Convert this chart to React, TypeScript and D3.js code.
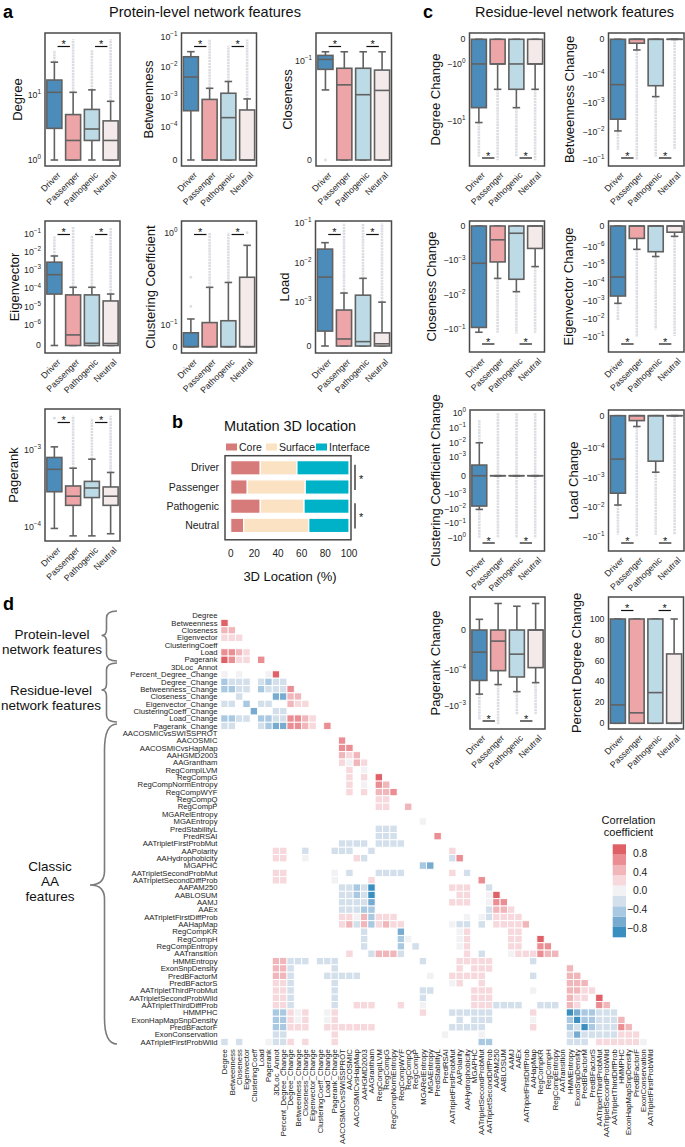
import React from "react";
import * as d3 from "d3";

const FONT = "'Liberation Sans', Arial, Helvetica, sans-serif";
const GROUPS = ["Driver", "Passenger", "Pathogenic", "Neutral"];
const GROUP_COLORS = ["#4b8cba", "#eea5a7", "#bddbe6", "#f4eaea"];

// box stats per group: [whiskerLow, q1, median, q3, whiskerHigh]; fliers: list of [from, to] ranges
const degreeStats = [[1, 3.07, 11, 17, 32], [1, 1, 2, 5, 11], [1, 2, 3, 6, 12], [1, 1, 2, 4, 8]];
const degreeFliers = [[[32, 49]], [[11, 72]], [[12, 49]], [[8, 72]]];
const degreeTicks = [1, 10];

const betweennessStats = [[0, 3.4e-4, 4.5e-3, 0.0214, 0.0316], [0, 0, 0, 8.1e-4, 1.9e-3], [0, 0, 2e-4, 1.3e-3, 3.2e-3], [0, 0, 0, 3.6e-4, 8.4e-4]];
const betweennessFliers = [[], [[1.9e-3, 0.08]], [[3.2e-3, 0.05]], [[8.4e-4, 0.08]]];
const betweennessTicks = [0, 1e-4, 1e-3, 1e-2, 1e-1];

const closenessStats = [[0.033, 0.072, 0.105, 0.122, 0.14], [0, 0, 0.04, 0.075, 0.14], [0, 0, 0.029, 0.075, 0.14], [0, 0, 0.0324, 0.07, 0.14]];
const closenessFliers = [[[0, 0]], [], [], []];
const closenessTicks = [0, 0.1];

const eigenvectorStats = [[0, 5e-5, 5.7e-4, 2.75e-3, 6e-3], [0, 0, 5.2e-7, 4.5e-5, 1.17e-4], [0, 0, 1.1e-7, 4.5e-5, 1.17e-4], [0, 0, 1e-7, 2.1e-5, 5e-5]];
const eigenvectorFliers = [[[6e-3, 0.074]], [[1.17e-4, 0.24]], [[1.17e-4, 0.085]], [[5e-5, 0.22]]];
const eigenvectorTicks = [0, 1e-6, 1e-5, 1e-4, 1e-3, 1e-2, 1e-1];

const clusteringStats = [[0, 0, 0, 0.065, 0.117], [0, 0, 0, 0.107, 0.257], [0, 0, 0, 0.112, 0.29], [0, 0, 0, 0.33, 0.73]];
const clusteringFliers = [[[0.16, 0.16], [0.33, 0.33]], [[0.257, 1.0]], [[0.29, 1.0]], [[1.0, 1.0]]];
const clusteringTicks = [0, 0.1, 1];

const loadStats = [[0, 3.4e-4, 4.3e-3, 0.022, 0.032], [0, 0, 1.6e-4, 8.2e-4, 1.7e-3], [0, 0, 1e-4, 1.5e-3, 4e-3], [0, 0, 5e-5, 3e-4, 1e-3]];
const loadFliers = [[], [[1.7e-3, 0.1]], [[4e-3, 0.1]], [[1e-3, 0.1]]];
const loadTicks = [0, 1e-3, 1e-2, 1e-1];

const pagerankStats = [[9.5e-5, 2.86e-4, 5.6e-4, 8e-4, 1.1e-3], [7.6e-5, 1.9e-4, 2.5e-4, 3.4e-4, 5.8e-4], [7.6e-5, 2.4e-4, 3.2e-4, 3.9e-4, 7.6e-4], [8.1e-5, 1.9e-4, 2.5e-4, 3.3e-4, 5.1e-4]];
const pagerankFliers = [[[2.6e-3, 2.6e-3]], [[5.8e-4, 2.8e-3]], [[7.6e-4, 2.6e-3]], [[5.1e-4, 2.8e-3]]];
const pagerankTicks = [1e-4, 1e-3];

const degreeChangeStats = [[-10.8, -5.9, -1, 0, 0], [-2.8, -1, -1, 0, 0], [-5.9, -2.8, -1, 0, 0], [-2.8, -1, -1, 0, 0]];
const degreeChangeFliers = [[[-10.8, -43]], [[-2.8, -50]], [[-5.9, -43]], [[-2.8, -50]]];
const degreeChangeTicks = [0, -1, -10];

const betweennessChangeStats = [[-9.3e-3, -3.6e-3, -2.2e-4, 0, 0], [-3e-5, -1.1e-5, 0, 0, 0], [-5.8e-4, -2.4e-4, 0, 0, 0], [0, 0, 0, 0, 0]];
const betweennessChangeFliers = [[[-9.3e-3, -4.3e-2]], [[-3e-5, -0.1]], [[-5.8e-4, -7.4e-2]], [[0, -4.3e-2]]];
const betweennessChangeTicks = [0, -1e-4, -1e-3, -1e-2, -1e-1];

const closenessChangeStats = [[-0.12, -8.7e-2, -1.2e-3, 0, 0], [-3.3e-3, -1.1e-3, -4e-4, 0, 0], [-8e-3, -3.5e-3, -2.1e-4, 0, 0], [-1.5e-3, -6.5e-4, 0, 0, 0]];
const closenessChangeFliers = [[], [[-3.3e-3, -0.13]], [[-8e-3, -0.13]], [[-1.5e-3, -0.13]]];
const closenessChangeTicks = [0, -1e-3, -1e-2, -1e-1];

const eigenvectorChangeStats = [[-1.4e-3, -5.5e-4, -4.8e-5, 0, 0], [-1.4e-6, -6e-7, 0, 0, 0], [-3.5e-6, -1.9e-6, 0, 0, 0], [-5e-7, -3e-7, 0, 0, 0]];
const eigenvectorChangeFliers = [[[-1.4e-3, -1.2e-2]], [[-1.4e-6, -0.1]], [[-3.5e-6, -4e-2]], [[-5e-7, -9e-2]]];
const eigenvectorChangeTicks = [0, -1e-6, -1e-5, -1e-4, -1e-3, -1e-2, -1e-1];

const clusteringChangeStats = [[-1.1e-2, -6.5e-3, 0, 5.8e-4, 9.8e-3], [0, 0, 0, 0, 0], [0, 0, 0, 0, 0], [0, 0, 0, 0, 0]];
const clusteringChangeFliers = [[[9.8e-3, 0.35], [-1.1e-2, -1]], [[1, -1]], [[1, -1]], [[1, -1]]];
const clusteringChangeTicks = [1, 0.1, 0.01, 0.001, 0, -0.001, -0.01, -0.1, -1];

const loadChangeStats = [[-8.3e-3, -3.3e-3, -2.3e-4, 0, 0], [-3.3e-5, -1.5e-5, 0, 0, 0], [-6.4e-4, -2.7e-4, 0, 0, 0], [0, 0, 0, 0, 0]];
const loadChangeFliers = [[[-8.3e-3, -8.5e-2]], [[-3.3e-5, -0.1]], [[-6.4e-4, -8.5e-2]], [[0, -8.5e-2]]];
const loadChangeTicks = [0, -1e-4, -1e-3, -1e-2, -1e-1];

const pagerankChangeStats = [[-4.8e-4, -2e-4, -5.6e-5, 0, 2.7e-5], [-2.6e-4, -1.07e-4, -2.8e-5, 0, 6.7e-5], [-4.1e-4, -1.6e-4, -6.1e-5, 0, 6e-5], [-2.3e-4, -9.5e-5, 0, 0, 6.7e-5]];
const pagerankChangeFliers = [[[-4.8e-4, -2.5e-3]], [[-2.6e-4, -3.3e-3]], [[-4.1e-4, -1.8e-3]], [[-2.3e-4, -1.8e-3]]];
const pagerankChangeTicks = [0, -1e-4, -1e-3];

const percentDegreeStats = [[0, 0, 17.6, 100, 100], [0, 0, 10, 100, 100], [0, 0, 29.4, 100, 100], [0, 0, 0, 66.5, 100]];
const percentDegreeFliers = [[], [], [], []];
const percentDegreeTicks = [0, 20, 40, 60, 80, 100];

// panel b
const LOC_CATEGORIES = ["Core", "Surface", "Interface"];
const LOC_COLORS = ["#d67a7a", "#fae2c3", "#00b2c8"];
const LOC_VALUES = [
  [25, 31, 44],
  [14, 49, 37],
  [25, 37, 38],
  [11, 55, 34],
];
const LOC_TICKS = [0, 20, 40, 60, 80, 100];

// panel d
const FEATURES = [
  "Degree", "Betweenness", "Closeness", "Eigenvector", "ClusteringCoeff", "Load", "Pagerank", "3DLoc_Annot",
  "Percent_Degree_Change", "Degree_Change", "Betweenness_Change", "Closeness_Change", "Eigenvector_Change",
  "ClusteringCoeff_Change", "Load_Change", "Pagerank_Change", "AACOSMICvsSWISSPROT", "AACOSMIC", "AACOSMICvsHapMap",
  "AAHGMD2003", "AAGrantham", "RegCompILVM", "RegCompG", "RegCompNormEntropy", "RegCompWYF", "RegCompQ", "RegCompP",
  "MGARelEntropy", "MGAEntropy", "PredStabilityL", "PredRSAI", "AATripletFirstProbMut", "AAPolarity", "AAHydrophobicity",
  "MGAPHC", "AATripletSecondProbMut", "AATripletSecondDiffProb", "AAPAM250", "AABLOSUM", "AAMJ", "AAEx",
  "AATripletFirstDiffProb", "AAHapMap", "RegCompKR", "RegCompH", "RegCompEntropy", "AATransition", "HMMEntropy",
  "ExonSnpDensity", "PredBFactorM", "PredBFactorS", "AATripletThirdProbMut", "AATripletSecondProbWild",
  "AATripletThirdDiffProb", "HMMPHC", "ExonHapMapSnpDensity", "PredBFactorF", "ExonConservation", "AATripletFirstProbWild",
];
const HEAT_COLORS = ["#3b8fc0", "#77abcf", "#a9c8e1", "#d3e0eb", "#f2f2f5", "#f7d9dd", "#f1b6ba", "#ea8e93", "#df6067"];
const CB_TICKS = [0.8, 0.4, 0.0, -0.4, -0.8];
// [row, col, correlation]
const HEAT_CELLS = [
  [1, 0, 0.8],
  [2, 0, 0.4], [2, 1, 0.4],
  [3, 0, 0.25], [3, 1, 0.25], [3, 2, 0.25],
  [5, 0, 0.6], [5, 1, 0.75], [5, 2, 0.4], [5, 3, 0.25],
  [6, 0, 0.8], [6, 1, 0.6], [6, 2, 0.25], [6, 3, 0.2], [6, 5, 0.6],
  [8, 0, 0.05], [8, 2, 0.05], [8, 6, 0.05], [8, 7, 0.8],
  [9, 0, -0.4], [9, 1, -0.3], [9, 2, -0.2], [9, 3, -0.2], [9, 5, -0.2], [9, 6, -0.4], [9, 7, -0.3], [9, 8, -0.25],
  [10, 0, -0.4], [10, 1, -0.4], [10, 2, -0.2], [10, 3, -0.2], [10, 5, -0.4], [10, 6, -0.3], [10, 7, -0.2], [10, 8, -0.2], [10, 9, 0.6],
  [11, 2, -0.2], [11, 7, -0.6], [11, 8, -0.6], [11, 9, 0.4], [11, 10, 0.4],
  [12, 0, -0.2], [12, 1, -0.2], [12, 3, -0.45], [12, 5, -0.2], [12, 6, -0.2], [12, 9, 0.4], [12, 10, 0.3], [12, 11, 0.25],
  [13, 4, -0.65], [13, 7, -0.2], [13, 8, -0.2],
  [14, 0, -0.4], [14, 1, -0.4], [14, 2, -0.2], [14, 3, -0.2], [14, 5, -0.35], [14, 6, -0.35], [14, 7, -0.2], [14, 8, -0.2], [14, 9, 0.6], [14, 10, 0.7], [14, 11, 0.5], [14, 12, 0.3],
  [15, 0, -0.2], [15, 1, -0.2], [15, 5, -0.2], [15, 6, -0.35], [15, 7, -0.6], [15, 8, -0.6], [15, 9, 0.75], [15, 10, 0.6], [15, 11, 0.4], [15, 12, 0.3], [15, 14, 0.6],
  [17, 16, 0.75],
  [18, 16, 0.75], [18, 17, 0.7],
  [19, 16, 0.35], [19, 17, 0.3], [19, 18, 0.35],
  [20, 16, 0.2], [20, 17, 0.05], [20, 18, 0.45], [20, 19, 0.3],
  [21, 17, 0.3], [21, 19, 0.05],
  [22, 17, 0.25], [22, 19, 0.25], [22, 21, 0.8],
  [23, 17, 0.25], [23, 19, 0.05], [23, 21, 0.75], [23, 22, 0.55],
  [24, 17, 0.25], [24, 19, 0.25], [24, 21, 0.45], [24, 22, 0.45], [24, 23, 0.65],
  [25, 21, 0.2], [25, 22, 0.2],
  [26, 21, 0.2], [26, 22, 0.2], [26, 25, 0.55],
  [28, 27, 0.05],
  [29, 21, -0.2], [29, 22, -0.2], [29, 23, -0.2],
  [30, 21, -0.2], [30, 22, -0.2], [30, 23, -0.2], [30, 29, 0.6],
  [31, 16, -0.2], [31, 17, -0.2], [31, 18, -0.2], [31, 19, -0.2], [31, 21, -0.2], [31, 22, -0.2], [31, 23, -0.2], [31, 24, -0.2],
  [32, 7, 0.25], [32, 8, 0.25], [32, 11, -0.25], [32, 15, -0.2], [32, 16, -0.2], [32, 17, -0.2], [32, 20, -0.2], [32, 31, 0.25],
  [33, 7, 0.25], [33, 8, 0.25], [33, 11, 0.05], [33, 18, 0.25], [33, 19, -0.2], [33, 31, -0.2], [33, 32, 0.6],
  [34, 27, -0.45], [34, 28, -0.65],
  [35, 7, 0.25], [35, 8, 0.25], [35, 15, 0.05], [35, 17, -0.2], [35, 21, -0.3], [35, 22, -0.3], [35, 23, -0.3], [35, 24, -0.2], [35, 31, 0.25], [35, 33, -0.2],
  [36, 7, 0.25], [36, 8, 0.25], [36, 15, 0.05], [36, 20, 0.25], [36, 35, 0.6],
  [37, 16, -0.2], [37, 17, -0.2], [37, 18, -0.35], [37, 19, -0.2], [37, 20, -0.85], [37, 31, 0.25], [37, 32, 0.25], [37, 33, 0.25], [37, 36, -0.2],
  [38, 16, -0.2], [38, 17, -0.2], [38, 18, -0.35], [38, 19, -0.2], [38, 20, -0.9], [38, 32, 0.25], [38, 33, 0.25], [38, 36, 0.05], [38, 37, 0.8],
  [39, 16, -0.2], [39, 17, -0.2], [39, 18, -0.2], [39, 19, -0.2], [39, 20, -0.6], [39, 31, 0.25], [39, 32, 0.25], [39, 33, 0.25], [39, 36, 0.05], [39, 37, 0.6], [39, 38, 0.6],
  [40, 16, -0.2], [40, 17, -0.2], [40, 18, -0.2], [40, 19, -0.4], [40, 20, -0.5], [40, 36, -0.2], [40, 37, 0.45], [40, 38, 0.55], [40, 39, 0.3],
  [41, 16, 0.25], [41, 17, 0.25], [41, 18, 0.05], [41, 19, 0.45], [41, 20, -0.4], [41, 21, 0.25], [41, 22, 0.25], [41, 23, 0.25], [41, 33, 0.05], [41, 35, 0.05], [41, 36, -0.2], [41, 37, 0.25], [41, 38, 0.25], [41, 39, 0.25], [41, 40, 0.25],
  [42, 16, 0.25], [42, 17, 0.4], [42, 18, -0.2], [42, 19, 0.4], [42, 20, -0.4], [42, 21, 0.25], [42, 22, 0.35], [42, 23, 0.25], [42, 24, 0.25], [42, 31, 0.05], [42, 32, -0.2], [42, 33, -0.2], [42, 35, -0.2], [42, 37, 0.25], [42, 38, 0.25], [42, 39, 0.25], [42, 40, 0.25], [42, 41, 0.55],
  [43, 19, -0.2], [43, 24, -0.6], [43, 32, 0.05], [43, 33, 0.25], [43, 39, 0.25], [43, 40, 0.25],
  [44, 19, -0.2], [44, 24, -0.55], [44, 25, 0.05], [44, 32, 0.05], [44, 33, 0.25], [44, 39, 0.25], [44, 40, 0.25], [44, 43, 0.8],
  [45, 19, -0.2], [45, 24, -0.55], [45, 26, -0.2], [45, 32, 0.05], [45, 33, 0.25], [45, 39, 0.25], [45, 40, 0.25], [45, 43, 0.75], [45, 44, 0.75],
  [46, 17, 0.25], [46, 20, -0.2], [46, 21, 0.5], [46, 22, 0.5], [46, 23, 0.5], [46, 24, -0.2], [46, 33, 0.25], [46, 35, -0.2], [46, 39, 0.05], [46, 40, 0.25], [46, 41, 0.25], [46, 42, 0.25], [46, 43, 0.65], [46, 44, 0.55], [46, 45, 0.55],
  [47, 7, 0.4], [47, 8, 0.4], [47, 9, -0.2], [47, 10, -0.2], [47, 11, -0.2], [47, 13, -0.2], [47, 14, -0.2], [47, 15, -0.2], [47, 27, -0.2], [47, 32, 0.25], [47, 33, 0.25], [47, 34, 0.25], [47, 35, 0.25], [47, 36, 0.25], [47, 42, -0.2],
  [48, 7, 0.4], [48, 8, 0.4], [48, 9, -0.2], [48, 15, -0.2], [48, 32, 0.25], [48, 34, 0.25], [48, 35, 0.25], [48, 36, 0.25], [48, 47, 0.55],
  [49, 7, 0.4], [49, 8, 0.4], [49, 9, -0.2], [49, 14, -0.2], [49, 15, -0.2], [49, 16, -0.2], [49, 17, -0.2], [49, 18, -0.2], [49, 28, 0.05], [49, 31, 0.25], [49, 32, 0.25], [49, 33, 0.25], [49, 34, 0.25], [49, 35, 0.25], [49, 42, -0.2], [49, 47, 0.55], [49, 48, 0.45],
  [50, 7, 0.25], [50, 8, 0.25], [50, 9, -0.2], [50, 15, -0.2], [50, 31, 0.05], [50, 32, 0.25], [50, 35, 0.25], [50, 47, 0.4], [50, 48, 0.4], [50, 49, 0.35],
  [51, 7, 0.25], [51, 8, 0.25], [51, 9, -0.2], [51, 15, -0.2], [51, 27, -0.2], [51, 28, -0.2], [51, 34, 0.25], [51, 35, 0.25], [51, 36, 0.25], [51, 42, 0.05], [51, 47, 0.4], [51, 48, 0.35], [51, 49, 0.3], [51, 50, 0.25],
  [52, 7, 0.25], [52, 8, 0.25], [52, 9, -0.2], [52, 15, -0.2], [52, 27, -0.2], [52, 34, 0.25], [52, 35, 0.25], [52, 36, 0.25], [52, 47, 0.4], [52, 48, 0.3], [52, 49, 0.2], [52, 51, 0.85],
  [53, 7, 0.25], [53, 8, 0.25], [53, 9, -0.2], [53, 15, -0.2], [53, 18, 0.25], [53, 19, 0.25], [53, 20, 0.25], [53, 24, 0.25], [53, 27, 0.05], [53, 34, 0.25], [53, 35, 0.25], [53, 36, 0.25], [53, 37, -0.2], [53, 38, -0.2], [53, 39, -0.2], [53, 40, -0.2], [53, 43, -0.2], [53, 44, -0.2], [53, 45, -0.2], [53, 47, 0.45], [53, 48, 0.25], [53, 51, 0.6], [53, 52, 0.55],
  [54, 7, -0.45], [54, 8, -0.45], [54, 9, 0.25], [54, 10, 0.05], [54, 11, 0.25], [54, 14, 0.05], [54, 15, 0.25], [54, 27, 0.25], [54, 31, -0.2], [54, 32, -0.2], [54, 33, -0.2], [54, 34, -0.2], [54, 35, -0.2], [54, 36, -0.2], [54, 42, 0.25], [54, 47, -0.85], [54, 48, -0.6], [54, 49, -0.5], [54, 50, -0.45], [54, 51, -0.3], [54, 52, -0.3], [54, 53, -0.3],
  [55, 7, -0.4], [55, 8, -0.4], [55, 9, 0.25], [55, 10, 0.05], [55, 11, 0.25], [55, 14, 0.05], [55, 15, 0.25], [55, 32, -0.2], [55, 34, -0.2], [55, 35, -0.2], [55, 36, -0.2], [55, 42, 0.05], [55, 47, -0.5], [55, 48, -0.9], [55, 49, -0.5], [55, 50, -0.4], [55, 51, -0.2], [55, 52, -0.2], [55, 53, -0.2], [55, 54, 0.55],
  [56, 7, -0.4], [56, 8, -0.4], [56, 9, 0.25], [56, 10, 0.25], [56, 11, 0.25], [56, 14, 0.25], [56, 15, 0.25], [56, 16, 0.25], [56, 17, 0.25], [56, 18, 0.25], [56, 19, 0.25], [56, 20, 0.25], [56, 31, -0.2], [56, 32, -0.2], [56, 33, -0.2], [56, 34, -0.2], [56, 35, -0.2], [56, 42, 0.25], [56, 47, -0.5], [56, 48, -0.3], [56, 49, -0.9], [56, 50, -0.5], [56, 51, -0.2], [56, 52, -0.2], [56, 53, -0.2], [56, 54, 0.6], [56, 55, 0.55],
  [57, 7, -0.2], [57, 8, -0.2], [57, 15, 0.25], [57, 30, 0.05], [57, 35, 0.05], [57, 47, -0.3], [57, 48, -0.6], [57, 49, -0.2], [57, 50, -0.2], [57, 51, -0.2], [57, 52, -0.2], [57, 53, -0.2], [57, 54, 0.3], [57, 55, 0.3], [57, 56, 0.3],
  [58, 0, -0.2], [58, 2, -0.2], [58, 6, 0.05], [58, 7, -0.2], [58, 8, -0.2], [58, 9, 0.25], [58, 11, 0.25], [58, 15, 0.25], [58, 35, -0.5], [58, 36, -0.5], [58, 47, -0.2], [58, 48, -0.2], [58, 49, -0.2], [58, 51, 0.25], [58, 52, 0.25], [58, 53, 0.25], [58, 54, 0.25], [58, 55, 0.25], [58, 56, 0.25], [58, 57, 0.05],
];

// ---------- scale transforms ----------
const symT = (L: number, ls: number) => (v: number) => {
  const a = Math.abs(v);
  const s = v < 0 ? -1 : 1;
  return a < L ? (s * a * ls) / L : s * (ls + Math.log10(a / L));
};
const logT = () => (v: number) => Math.log10(v);
const linT = () => (v: number) => v;

const SUP = (e: number) => (e < 0 ? "\u2212" + -e : String(e));

function TickLabel({ v, kind }: { v: number; kind: string }) {
  if (kind === "lin") return <>{String(v)}</>;
  if (v === 0) return <>0</>;
  const e = Math.round(Math.log10(Math.abs(v)));
  return (
    <>
      {v < 0 ? "\u221210" : "10"}
      <tspan dy={-3.8} fontSize={6.3}>{SUP(e)}</tspan>
    </>
  );
}

const EDGE = "#616161";
const FLIER = "#dcdce3";

function BoxPanel(p: any) {
  const { x0, y0, w, h, tf, domainT, ticks, kind, label, labelOff, stats, fliers, sig } = p;
  const yS = d3.scaleLinear().domain(domainT).range([y0 + h, y0]);
  const y = (v: number) => yS(tf(v));
  const xB = d3.scaleBand().domain(GROUPS).range([x0, x0 + w]).padding(0);
  const step = xB.bandwidth();
  const bw = step * 0.8;
  const cx = (i: number) => (xB(GROUPS[i]) as number) + step / 2;
  const sigLines = [[0, 1], [2, 3]];
  const sigY = sig === "top" ? y0 + 13.5 : y0 + h - 8;
  return (
    <g>
      {stats.map((s: number[], i: number) => (
        <g key={"f" + i}>
          {fliers[i].map((r: number[], k: number) =>
            r[0] === r[1] ? (
              <circle key={k} cx={cx(i)} cy={y(r[0])} r={1.4} fill={FLIER} />
            ) : (
              <line key={k} x1={cx(i)} x2={cx(i)} y1={y(r[0])} y2={y(r[1])} stroke={FLIER} strokeWidth={2.6} strokeDasharray="2.2 0.7" />
            )
          )}
        </g>
      ))}
      {stats.map((s: number[], i: number) => {
        const [lo, q1, med, q3, hi] = s;
        const c = cx(i);
        const cap = bw * 0.5;
        return (
          <g key={"b" + i} stroke={EDGE} strokeWidth={1.6}>
            <line x1={c} x2={c} y1={y(lo)} y2={y(q1)} />
            <line x1={c} x2={c} y1={y(q3)} y2={y(hi)} />
            <line x1={c - cap / 2} x2={c + cap / 2} y1={y(lo)} y2={y(lo)} />
            <line x1={c - cap / 2} x2={c + cap / 2} y1={y(hi)} y2={y(hi)} />
            <rect x={c - bw / 2} width={bw} y={Math.min(y(q3), y(q1))} height={Math.max(0.01, Math.abs(y(q1) - y(q3)))} fill={GROUP_COLORS[i]} />
            <line x1={c - bw / 2} x2={c + bw / 2} y1={y(med)} y2={y(med)} />
          </g>
        );
      })}
      <rect x={x0} y={y0} width={w} height={h} fill="none" stroke="#4a4a4a" strokeWidth={1.5} />
      {ticks.map((t: number, i: number) => (
        <text key={"t" + i} x={x0 - 4} y={y(t)} dy="0.33em" textAnchor="end" fontSize={8.8} fill="#262626">
          <TickLabel v={t} kind={kind} />
        </text>
      ))}
      <text transform={`translate(${x0 - labelOff},${y0 + h / 2}) rotate(-90)`} textAnchor="middle" dy="0.35em" fontSize={13} fill="#111">
        {label}
      </text>
      {GROUPS.map((g, i) => (
        <text key={g} transform={`translate(${cx(i) + 3},${y0 + h + 6}) rotate(-45)`} textAnchor="end" dy="0.6em" fontSize={8.8} fill="#262626">
          {g}
        </text>
      ))}
      {sigLines.map(([a, b], k) => {
        const m = (cx(a) + cx(b)) / 2;
        const hl = step * 0.33;
        return (
          <g key={"s" + k}>
            <line x1={m - hl} x2={m + hl} y1={sigY} y2={sigY} stroke="#111" strokeWidth={1.2} />
            <text x={m} y={sigY + 1.8} textAnchor="middle" fontSize={11} fill="#111">*</text>
          </g>
        );
      })}
    </g>
  );
}

const PANELS_A = [
  { label: "Degree", x0: 45, y0: 33, w: 75, h: 133, tf: logT(), domainT: [-0.092, 1.954], ticks: degreeTicks, kind: "log", labelOff: 28, stats: degreeStats, fliers: degreeFliers, sig: "top" },
  { label: "Betweenness", x0: 181.5, y0: 33, w: 75, h: 133, tf: symT(1e-4, 1.111), domainT: [-0.2, 4.233], ticks: betweennessTicks, kind: "sym", labelOff: 33, stats: betweennessStats, fliers: betweennessFliers, sig: "top" },
  { label: "Closeness", x0: 316, y0: 33, w: 75.5, h: 133, tf: symT(0.03, 1.111), domainT: [-0.099, 2.089], ticks: closenessTicks, kind: "sym", labelOff: 29, stats: closenessStats, fliers: closenessFliers, sig: "top" },
  { label: "Eigenvector", x0: 45, y0: 221, w: 75, h: 132, tf: symT(1e-6, 1.111), domainT: [-0.41, 6.8], ticks: eigenvectorTicks, kind: "sym", labelOff: 31, stats: eigenvectorStats, fliers: eigenvectorFliers, sig: "top" },
  { label: "Clustering Coefficient", x0: 181.5, y0: 221, w: 75, h: 132, tf: symT(0.1, 0.231), domainT: [-0.068, 1.357], ticks: clusteringTicks, kind: "sym", labelOff: 31, stats: clusteringStats, fliers: clusteringFliers, sig: "top" },
  { label: "Load", x0: 315.5, y0: 221, w: 76, h: 132, tf: symT(1e-3, 1.111), domainT: [-0.177, 3.165], ticks: loadTicks, kind: "sym", labelOff: 31, stats: loadStats, fliers: loadFliers, sig: "top" },
  { label: "Pagerank", x0: 45, y0: 409, w: 75, h: 132, tf: logT(), domainT: [-4.186, -2.465], ticks: pagerankTicks, kind: "log", labelOff: 31.7, stats: pagerankStats, fliers: pagerankFliers, sig: "top" },
];

const PANELS_C = [
  { label: "Degree Change", x0: 469.5, y0: 33, w: 75, h: 133, tf: symT(1, 0.435), domainT: [-2.235, 0.111], ticks: degreeChangeTicks, kind: "sym", labelOff: 34, stats: degreeChangeStats, fliers: degreeChangeFliers, sig: "bottom" },
  { label: "Betweenness Change", x0: 608.5, y0: 33, w: 75.5, h: 133, tf: symT(1e-4, 1.25), domainT: [-4.45, 0.221], ticks: betweennessChangeTicks, kind: "sym", labelOff: 39, stats: betweennessChangeStats, fliers: betweennessChangeFliers, sig: "bottom" },
  { label: "Closeness Change", x0: 469.5, y0: 221, w: 75, h: 131, tf: symT(1e-3, 1.0), domainT: [-3.652, 0.145], ticks: closenessChangeTicks, kind: "sym", labelOff: 38, stats: closenessChangeStats, fliers: closenessChangeFliers, sig: "bottom" },
  { label: "Eigenvector Change", x0: 608.5, y0: 221, w: 75.5, h: 131, tf: symT(1e-6, 1.15), domainT: [-7.0, 0.278], ticks: eigenvectorChangeTicks, kind: "sym", labelOff: 40, stats: eigenvectorChangeStats, fliers: eigenvectorChangeFliers, sig: "bottom" },
  { label: "Clustering Coefficient Change", x0: 470, y0: 410, w: 74.5, h: 141, tf: symT(1e-3, 1.25), domainT: [-5.12, 4.47], ticks: clusteringChangeTicks, kind: "sym", labelOff: 35, stats: clusteringChangeStats, fliers: clusteringChangeFliers, sig: "bottom" },
  { label: "Load Change", x0: 608.5, y0: 410, w: 75.5, h: 141, tf: symT(1e-4, 1.111), domainT: [-4.59, 0.193], ticks: loadChangeTicks, kind: "sym", labelOff: 35, stats: loadChangeStats, fliers: loadChangeFliers, sig: "bottom" },
  { label: "Pagerank Change", x0: 470, y0: 597, w: 75, h: 132, tf: symT(1e-4, 1.1), domainT: [-2.75, 0.917], ticks: pagerankChangeTicks, kind: "sym", labelOff: 35, stats: pagerankChangeStats, fliers: pagerankChangeFliers, sig: "bottom" },
  { label: "Percent Degree Change", x0: 608.5, y0: 597, w: 75, h: 132, tf: linT(), domainT: [-5.5, 121.1], ticks: percentDegreeTicks, kind: "lin", labelOff: 32, stats: percentDegreeStats, fliers: percentDegreeFliers, sig: "top" },
];

function PanelB() {
  const fx0 = 225, fx1 = 351, fy0 = 455.7, fy1 = 539.8;
  const x = d3.scaleLinear().domain([0, 100]).range([230.7, 349]);
  const yB = d3.scaleBand().domain(GROUPS).range([458.2, 535]).paddingInner(0.255).paddingOuter(0.1275);
  const legendX = [226, 266, 316];
  return (
    <g>
      <text x={172} y={428} fontSize={18} fontWeight="bold">b</text>
      <text x={290} y={431} textAnchor="middle" fontSize={14.5} fill="#111">Mutation 3D location</text>
      {LOC_CATEGORIES.map((c, i) => (
        <g key={c}>
          <rect x={legendX[i]} y={443.5} width={11} height={7} fill={LOC_COLORS[i]} />
          <text x={legendX[i] + 13} y={447} dy="0.35em" fontSize={10.5} fill="#222">{c}</text>
        </g>
      ))}
      {LOC_VALUES.map((vals, gi) => {
        const stack = d3.cumsum(vals);
        return vals.map((v, k) => {
          const start = k === 0 ? 0 : stack[k - 1];
          return (
            <rect key={gi + "-" + k} x={x(start)} width={x(start + v) - x(start)} y={yB(GROUPS[gi])} height={yB.bandwidth()} fill={LOC_COLORS[k]} stroke="#fff" strokeWidth={1.2} />
          );
        });
      })}
      <rect x={fx0} y={fy0} width={fx1 - fx0} height={fy1 - fy0} fill="none" stroke="#4a4a4a" strokeWidth={1.5} />
      {GROUPS.map((g) => (
        <text key={g} x={219} y={(yB(g) as number) + yB.bandwidth() / 2} dy="0.35em" textAnchor="end" fontSize={10.5} fill="#222">{g}</text>
      ))}
      {LOC_TICKS.map((t) => (
        <text key={t} x={x(t)} y={553} dy="0.35em" textAnchor="middle" fontSize={10} fill="#222">{t}</text>
      ))}
      <text x={290} y={581} textAnchor="middle" fontSize={13} fill="#111">3D Location (%)</text>
      {[[0, 1], [2, 3]].map(([a, b], k) => {
        const ya = (yB(GROUPS[a]) as number) + yB.bandwidth() / 2;
        const yb = (yB(GROUPS[b]) as number) + yB.bandwidth() / 2;
        return (
          <g key={k}>
            <line x1={355} x2={355} y1={ya - 3} y2={yb + 3} stroke="#111" strokeWidth={1.2} />
            <text x={359} y={(ya + yb) / 2 + 5.5} fontSize={11} fill="#111">*</text>
          </g>
        );
      })}
    </g>
  );
}

function bracePath(xEnd: number, xMid: number, xTip: number, y0: number, yTip: number, y1: number, r: number, rt: number) {
  return `M${xEnd},${y0} Q${xMid},${y0} ${xMid},${y0 + r} L${xMid},${yTip - rt} Q${xMid},${yTip} ${xTip},${yTip} Q${xMid},${yTip} ${xMid},${yTip + rt} L${xMid},${y1 - r} Q${xMid},${y1} ${xEnd},${y1}`;
}

function PanelD() {
  const cell = 7.35;
  const x = d3.scaleBand().domain(FEATURES).range([220.8, 220.8 + cell * FEATURES.length]);
  const y = d3.scaleBand().domain(FEATURES).range([612.0, 612.0 + cell * FEATURES.length]);
  const color = d3.scaleQuantize<string>().domain([-1, 1]).range(HEAT_COLORS);
  const cb = d3.scaleLinear().domain([-1, 1]).range([937.3, 844.3]);
  const nb = HEAT_COLORS.length;
  const labBottom = 612.0 + cell * FEATURES.length + 3.5;
  return (
    <g>
      <text x={3} y={610} fontSize={18} fontWeight="bold">d</text>
      {HEAT_CELLS.map(([r, c, v], i) => (
        <rect key={i} x={x(FEATURES[c])} y={y(FEATURES[r])} width={cell} height={cell} fill={color(v)} stroke="#fff" strokeWidth={0.9} />
      ))}
      {FEATURES.map((f) => (
        <text key={"r" + f} x={217.5} y={(y(f) as number) + cell / 2} dy="0.35em" textAnchor="end" fontSize={7.7} fill="#222">{f}</text>
      ))}
      {FEATURES.map((f) => (
        <text key={"c" + f} transform={`translate(${(x(f) as number) + cell / 2},${labBottom}) rotate(-90)`} dy="0.35em" textAnchor="end" fontSize={7.7} fill="#222">{f}</text>
      ))}
      <g fill="none" stroke="#7a7a7a" strokeWidth={1.6}>
        <path d={bracePath(117, 106.5, 101.5, 611, 635.5, 661, 7, 6)} />
        <path d={bracePath(117, 106.5, 101.5, 663, 690, 722, 7, 6)} />
        <path d={bracePath(117, 104.5, 90, 724, 885, 1044, 26, 14)} />
      </g>
      <g fontSize={13.5} fill="#111" textAnchor="middle">
        <text x={52} y={638.5}>Protein-level</text>
        <text x={52} y={653.5}>network features</text>
        <text x={51} y={695}>Residue-level</text>
        <text x={51} y={710}>network features</text>
        <text x={50} y={871}>Classic</text>
        <text x={50} y={886}>AA</text>
        <text x={50} y={901}>features</text>
      </g>
      <text x={628.5} y={824} textAnchor="middle" fontSize={11} fill="#111">Correlation</text>
      <text x={628.5} y={836} textAnchor="middle" fontSize={11} fill="#111">coefficient</text>
      {HEAT_COLORS.map((c, i) => {
        const lo = -1 + (2 * i) / nb;
        const hi = -1 + (2 * (i + 1)) / nb;
        return <rect key={c} x={612.7} width={13.3} y={cb(hi)} height={cb(lo) - cb(hi)} fill={c} />;
      })}
      {CB_TICKS.map((t) => (
        <text key={t} x={647.3} y={cb(t)} dy="0.35em" textAnchor="end" fontSize={10.3} fill="#222">
          {t < 0 ? "\u2212" + Math.abs(t).toFixed(1) : t.toFixed(1)}
        </text>
      ))}
    </g>
  );
}

export default function App() {
  return (
    <svg width={685} height={1147} style={{ position: "absolute", left: 0, top: 0, background: "#fff" }} fontFamily={FONT}>
      <rect width={685} height={1147} fill="#fff" />
      <text x={3} y={18} fontSize={18} fontWeight="bold">a</text>
      <text x={205} y={17} textAnchor="middle" fontSize={14.5} fill="#111">Protein-level network features</text>
      <text x={423} y={18} fontSize={18} fontWeight="bold">c</text>
      <text x={574.5} y={17} textAnchor="middle" fontSize={14.5} fill="#111">Residue-level network features</text>
      {PANELS_A.map((p) => <BoxPanel key={p.label} {...p} />)}
      {PANELS_C.map((p) => <BoxPanel key={p.label} {...p} />)}
      <PanelB />
      <PanelD />
    </svg>
  );
}
